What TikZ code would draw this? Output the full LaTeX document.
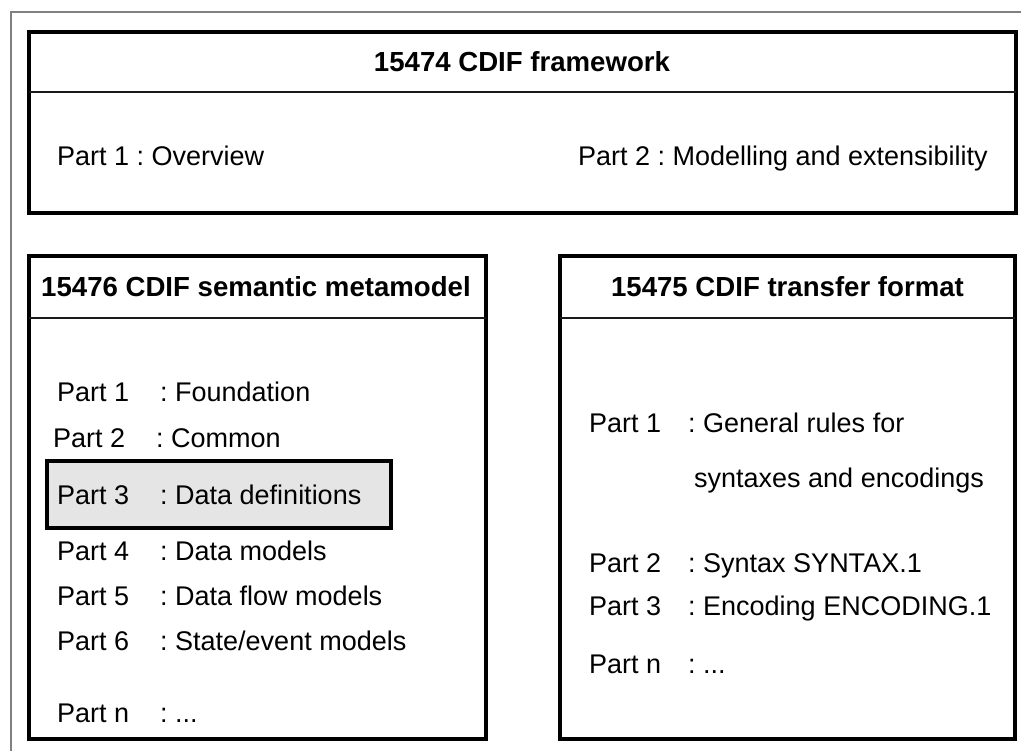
\documentclass[tikz,border=0pt]{standalone}
\usepackage{fontspec}
\setmainfont{Liberation Sans}
\newcommand\moreparts{...}
\frenchspacing
\begin{document}
\begin{tikzpicture}[x=1pt,y=-1pt,
        stdbox/.style={line width=3.2pt,color=black},
        rulebar/.style={line width=1.8pt,color=black!90},
        parttxt/.style={anchor=base west,inner sep=0pt,font=\fontsize{27}{32}\selectfont},
        headtxt/.style={anchor=base,inner sep=0pt,font=\bfseries\fontsize{27.6}{32}\selectfont}]
            \useasboundingbox (0,0) rectangle (1021,751);

            % outer frame
            \draw[color=gray,line width=1.4pt] (11,751) -- (11,12) -- (1021,12);

            % 15474 framework
            \draw[stdbox] (29,32) rectangle (1016,213);
            \draw[rulebar] (29,92) -- (1016,92);
            \node[headtxt] (fwtitle) at (522,72) {15474 CDIF framework};
            \node[parttxt] (fw1) at (57,166) {Part 1 : Overview};
            \node[parttxt,anchor=base east] (fw2) at (988,166)
                {Part 2 : Modelling and extensibility};

            % 15476 semantic metamodel
            \draw[stdbox] (29,256) rectangle (486,739);
            \draw[rulebar] (29,318) -- (486,318);
            \node[headtxt] (smtitle) at (256,297) {15476 CDIF semantic metamodel};
            \draw[stdbox,fill=black!10] (47,461) rectangle (391,528);
            \foreach \y/\dx/\p/\t in {402/0/1/Foundation, 448/-4/2/Common,
                    504/0/3/Data definitions, 560/0/4/Data models,
                    605/0/5/Data flow models, 650/0/6/{State/event models},
                    722/0/n/\moreparts}
            {
                \node[parttxt] (sm\p) at (57+\dx,\y) {Part \p};
                \node[parttxt] (sm\p t) at (160+\dx,\y) {: \t};
            }

            % 15475 transfer format
            \draw[stdbox] (560,256) rectangle (1015,739);
            \draw[rulebar] (560,318) -- (1015,318);
            \node[headtxt] (tftitle) at (787.5,297) {15475 CDIF transfer format};
            \foreach \y/\p/\t in {432/1/General rules for, 572/2/Syntax SYNTAX.1,
                    615/3/Encoding ENCODING.1, 673/n/\moreparts}
            {
                \node[parttxt] (tf\p) at (589,\y) {Part \p};
                \node[parttxt] (tf\p t) at (688,\y) {: \t};
            }
            \node[parttxt] (tf1b) at (694,487) {syntaxes and encodings};
        \end{tikzpicture}
\end{document}
